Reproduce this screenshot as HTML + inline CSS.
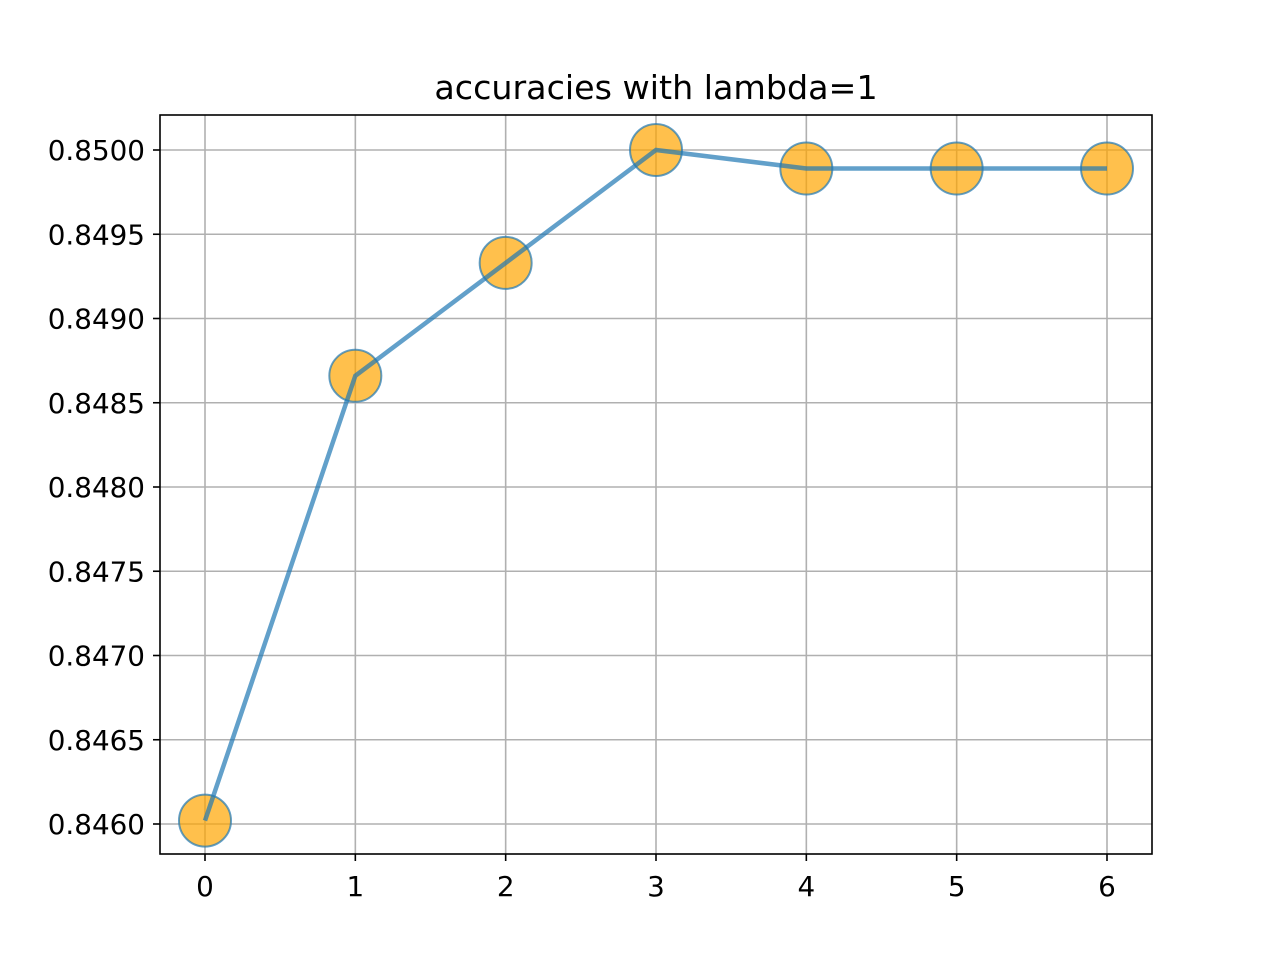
<!DOCTYPE html>
<html><head><meta charset="utf-8"><style>
html,body{margin:0;padding:0;background:#fff;}
svg{display:block;font-family:"DejaVu Sans","Liberation Sans",sans-serif;}
</style></head><body>
<svg id="chart" width="1280" height="960" viewBox="0 0 1280 960" xmlns="http://www.w3.org/2000/svg">
<rect width="1280" height="960" fill="#fff"/>
<g id="grid"></g>
<g id="series"></g>
<rect x="160" y="115" width="992" height="739" fill="none" stroke="#000" stroke-width="1.6"/>
<g id="ticks"></g>
<text x="656" y="99" text-anchor="middle" font-size="33.3">accuracies with lambda=1</text>
</svg>
<script>
const xValues = [0, 1, 2, 3, 4, 5, 6];
const accuracies = [0.84602, 0.84866, 0.84933, 0.85000, 0.84989, 0.84989, 0.84989];
const xTicks = [0, 1, 2, 3, 4, 5, 6];
const yTicks = [0.8460, 0.8465, 0.8470, 0.8475, 0.8480, 0.8485, 0.8490, 0.8495, 0.8500];

const NS = "http://www.w3.org/2000/svg";
const X = v => 205 + (v - 0) * (1107 - 205) / 6;
const Y = v => 824 - (v - 0.8460) * (824 - 150) / 0.004;
function mk(tag, attrs, parent) {
  const e = document.createElementNS(NS, tag);
  for (const k in attrs) e.setAttribute(k, attrs[k]);
  parent.appendChild(e); return e;
}
const grid = document.getElementById('grid'), ticks = document.getElementById('ticks'), series = document.getElementById('series');
xTicks.forEach(t => {
  const g = mk('line', {x1: X(t), x2: X(t), y1: 115, y2: 854, stroke: '#b0b0b0', 'stroke-width': 1.6}, grid);
  
  
  mk('line', {x1: X(t), x2: X(t), y1: 854, y2: 861, stroke: '#000', 'stroke-width': 1.6}, ticks);
  const l = mk('text', {x: X(t), y: 896, 'text-anchor': 'middle', 'font-size': 27.8}, ticks);
  l.textContent = t;
  
  
});
yTicks.forEach(t => {
  const g = mk('line', {x1: 160, x2: 1152, y1: Y(t), y2: Y(t), stroke: '#b0b0b0', 'stroke-width': 1.6}, grid);
  
  
  mk('line', {x1: 153, x2: 160, y1: Y(t), y2: Y(t), stroke: '#000', 'stroke-width': 1.6}, ticks);
  const l = mk('text', {x: 145, y: Y(t) + 10, 'text-anchor': 'end', 'font-size': 27.8}, ticks);
  l.textContent = t.toFixed(4);
  
  
});
xValues.forEach((x, i) => {
  const c = mk('circle', {cx: X(x), cy: Y(accuracies[i]), r: 26, fill: 'rgba(255,165,0,0.7)', stroke: 'rgba(31,119,180,0.7)', 'stroke-width': 2}, series);
  
  
});
const p = mk('polyline', {points: xValues.map((x, i) => X(x) + ',' + Y(accuracies[i])).join(' '), fill: 'none', stroke: 'rgba(31,119,180,0.7)', 'stroke-width': 4.5}, series);


</script>
</body></html>
